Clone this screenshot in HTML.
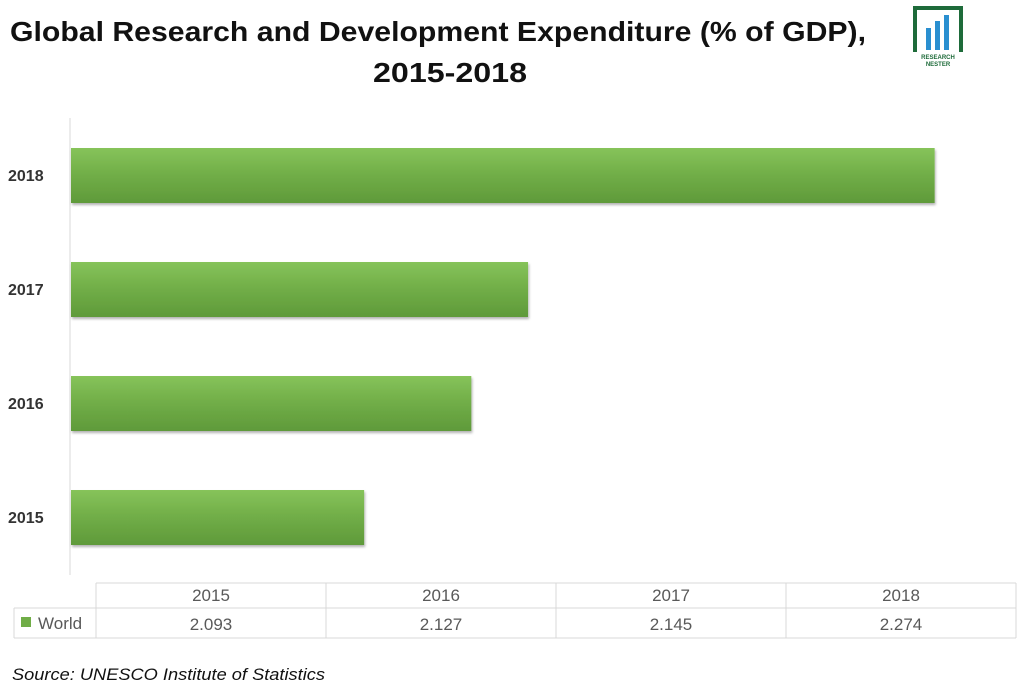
<!DOCTYPE html>
<html><head><meta charset="utf-8"><style>
body{margin:0;background:#fff;width:1024px;height:693px;overflow:hidden;font-family:"Liberation Sans",sans-serif}
</style></head><body>
<svg width="1024" height="693">
<defs><linearGradient id="g" x1="0" y1="0" x2="0" y2="1">
<stop offset="0" stop-color="#86c35a"/><stop offset="0.5" stop-color="#70ad47"/><stop offset="1" stop-color="#5f9a3a"/></linearGradient>
<filter id="sh"><feDropShadow dx="1" dy="2" stdDeviation="1.2" flood-color="#000" flood-opacity="0.3"/></filter></defs>
<text x="10" y="41" textLength="856" lengthAdjust="spacingAndGlyphs" font-size="28" font-weight="bold" fill="#111">Global Research and Development Expenditure (% of GDP),</text>
<text x="373" y="82" textLength="154" lengthAdjust="spacingAndGlyphs" font-size="28" font-weight="bold" fill="#111">2015-2018</text>
<g>
<path d="M915 52 V8 H961 V52" fill="none" stroke="#1e6b3a" stroke-width="4"/>
<rect x="926" y="28" width="5" height="22" fill="#2a8fd0"/><rect x="935" y="21" width="5" height="29" fill="#2a8fd0"/><rect x="944" y="15" width="5" height="35" fill="#2a8fd0"/>
<text x="938" y="59" text-anchor="middle" font-size="6" font-weight="bold" fill="#1e6b3a">RESEARCH</text>
<text x="938" y="66" text-anchor="middle" font-size="6" font-weight="bold" fill="#1e6b3a">NESTER</text></g>
<line x1="70" y1="118" x2="70" y2="575" stroke="#d9d9d9"/>
<g id="bars"></g>
<g id="table" font-size="17" fill="#595959"></g>
<text x="12" y="680" textLength="313" lengthAdjust="spacingAndGlyphs" font-size="17" font-style="italic" fill="#111">Source: UNESCO Institute of Statistics</text>
</svg>
<script>
const categories=["2015","2016","2017","2018"];
const values=[2.093,2.127,2.145,2.274];
const labels=["2.093","2.127","2.145","2.274"];
const NS="http://www.w3.org/2000/svg";
const xMin=2.0,x0=71,pxPerUnit=3152;
function xs(v){return x0+(v-xMin)*pxPerUnit;}
function yc(i){return 517-i*114;}
const bars=document.getElementById('bars');
categories.forEach((c,i)=>{
 const r=document.createElementNS(NS,'rect');
 r.setAttribute('x',x0);r.setAttribute('y',yc(i)-27);
 r.setAttribute('width',xs(values[i])-x0);r.setAttribute('height',55);
 r.setAttribute('fill','url(#g)');r.setAttribute('filter','url(#sh)');
 
 
 bars.appendChild(r);
 const t=document.createElementNS(NS,'text');
 t.setAttribute('x',8);t.setAttribute('y',yc(i)+6);t.setAttribute('font-size','16');t.setAttribute('font-weight','bold');t.setAttribute('fill','#333');
 t.textContent=c;
 
 
 bars.appendChild(t);
});
const tb=document.getElementById('table');
function ln(x1,y1,x2,y2){const l=document.createElementNS(NS,'line');l.setAttribute('x1',x1);l.setAttribute('y1',y1);l.setAttribute('x2',x2);l.setAttribute('y2',y2);l.setAttribute('stroke','#d9d9d9');


tb.appendChild(l);}
const cw=230,cx0=96;
ln(cx0,583,1016,583);ln(14,608,1016,608);ln(14,638,1016,638);ln(14,608,14,638);
for(let i=0;i<=4;i++)ln(cx0+i*cw,583,cx0+i*cw,638);
const sq=document.createElementNS(NS,'rect');sq.setAttribute('x',21);sq.setAttribute('y',617);sq.setAttribute('width',10);sq.setAttribute('height',10);sq.setAttribute('fill','#70ad47');


tb.appendChild(sq);
const lw=document.createElementNS(NS,'text');lw.setAttribute('x',38);lw.setAttribute('y',629);lw.textContent='World';


tb.appendChild(lw);
categories.forEach((c,i)=>{
 [[c,601,'table-header'],[labels[i],630,'table-value']].forEach(([s,y,n])=>{
  const t=document.createElementNS(NS,'text');t.setAttribute('x',cx0+i*cw+cw/2);t.setAttribute('y',y);t.setAttribute('text-anchor','middle');t.textContent=s;
  
  
  tb.appendChild(t);
 });
});
</script>
</body></html>
